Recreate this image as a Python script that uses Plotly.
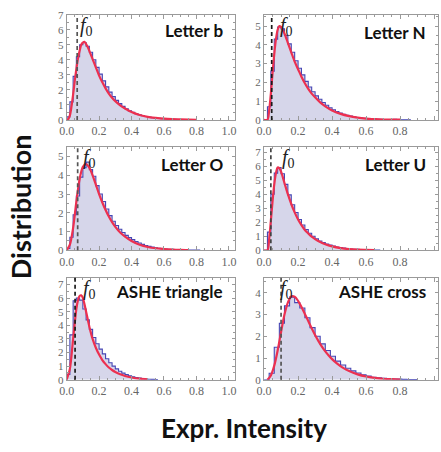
import numpy as np
import plotly.graph_objects as go

# ---------------- data ----------------
panel_titles = ["Letter b", "Letter N", "Letter O", "Letter U", "ASHE triangle", "ASHE cross"]
f0_values = [0.065, 0.045, 0.068, 0.040, 0.052, 0.100]
y_max = [7.0, 5.6, 5.5, 7.35, 7.5, 4.7]
bin_widths = [0.02, 0.02, 0.02, 0.02, 0.02, 0.03]
x_tick_vals = [0.0, 0.2, 0.4, 0.6, 0.8, 1.0]

hist_letter_b = [0.2, 1.2, 2.9, 4.2, 5.0, 5.15, 4.9, 4.5, 4.0, 3.5, 3.05, 2.6, 2.2, 1.85, 1.55,
                 1.3, 1.08, 0.9, 0.74, 0.6, 0.5, 0.41, 0.34, 0.28, 0.23, 0.19, 0.15, 0.12, 0.1,
                 0.08, 0.07, 0.05, 0.04, 0.04, 0.03, 0.02, 0.02, 0.01, 0.01, 0.01]
fit_letter_b_x = [0, 0.01, 0.02, 0.03, 0.04, 0.05, 0.06, 0.07, 0.08, 0.09, 0.10, 0.11, 0.12, 0.13,
                  0.14, 0.16, 0.18, 0.20, 0.22, 0.24, 0.26, 0.28, 0.30, 0.33, 0.36, 0.40, 0.45,
                  0.50, 0.55, 0.60, 0.65, 0.70, 0.80]
fit_letter_b_y = [0, 0.05, 0.3, 0.9, 1.7, 2.6, 3.4, 4.1, 4.6, 5.0, 5.15, 5.2, 5.05, 4.85, 4.6,
                  4.05, 3.5, 2.95, 2.5, 2.1, 1.75, 1.48, 1.25, 0.97, 0.76, 0.53, 0.33, 0.2, 0.13,
                  0.08, 0.05, 0.03, 0.01]

hist_letter_N = [0.0, 0.7, 2.6, 4.3, 4.95, 4.85, 4.5, 4.05, 3.6, 3.15, 2.75, 2.4, 2.05, 1.75, 1.5,
                 1.28, 1.1, 0.93, 0.78, 0.65, 0.54, 0.45, 0.37, 0.3, 0.25, 0.2, 0.16, 0.13, 0.1,
                 0.08, 0.06, 0.05, 0.04, 0.03, 0.03, 0.02, 0.02, 0.02, 0.03, 0.01, 0.01, 0.01, 0.01]
fit_letter_N_x = [0, 0.02, 0.03, 0.04, 0.05, 0.06, 0.07, 0.08, 0.09, 0.10, 0.12, 0.14, 0.16, 0.18,
                  0.20, 0.22, 0.24, 0.26, 0.28, 0.30, 0.33, 0.36, 0.40, 0.45, 0.50, 0.55, 0.60,
                  0.65, 0.70, 0.80]
fit_letter_N_y = [0, 0.0, 0.5, 1.4, 2.5, 3.5, 4.3, 4.8, 5.0, 4.95, 4.6, 4.1, 3.6, 3.1, 2.7, 2.3,
                  1.95, 1.65, 1.4, 1.2, 0.93, 0.72, 0.5, 0.32, 0.2, 0.12, 0.07, 0.04, 0.02, 0.01]

hist_letter_O = [0.1, 0.7, 1.9, 2.9, 3.9, 4.4, 4.7, 4.3, 3.95, 3.45, 3.0, 2.6, 2.2, 1.85, 1.55,
                 1.32, 1.12, 0.95, 0.8, 0.68, 0.57, 0.47, 0.39, 0.32, 0.26, 0.21, 0.17, 0.14, 0.11,
                 0.09, 0.07, 0.06, 0.05, 0.04, 0.03, 0.03, 0.02, 0.02, 0.01, 0.01, 0.01]
fit_letter_O_x = [0, 0.02, 0.04, 0.06, 0.08, 0.10, 0.12, 0.14, 0.16, 0.18, 0.20, 0.22, 0.24, 0.26,
                  0.28, 0.30, 0.33, 0.36, 0.40, 0.45, 0.50, 0.55, 0.60, 0.65, 0.70, 0.75]
fit_letter_O_y = [0, 0.3, 1.2, 2.6, 3.8, 4.45, 4.6, 4.4, 4.0, 3.5, 3.0, 2.55, 2.15, 1.8, 1.5, 1.25,
                  0.95, 0.73, 0.5, 0.3, 0.18, 0.11, 0.07, 0.04, 0.02, 0.01]

hist_letter_U = [0.0, 1.3, 4.0, 5.5, 5.9, 5.45, 4.7, 3.95, 3.25, 2.7, 2.2, 1.8, 1.48, 1.22, 1.0,
                 0.82, 0.67, 0.55, 0.45, 0.37, 0.3, 0.24, 0.2, 0.16, 0.13, 0.1, 0.08, 0.07, 0.05,
                 0.04, 0.03, 0.03, 0.02, 0.02]
fit_letter_U_x = [0, 0.02, 0.03, 0.04, 0.05, 0.06, 0.07, 0.08, 0.09, 0.10, 0.12, 0.14, 0.16, 0.18,
                  0.20, 0.22, 0.24, 0.26, 0.28, 0.30, 0.33, 0.36, 0.40, 0.45, 0.50, 0.55, 0.60, 0.65]
fit_letter_U_y = [0, 0.0, 0.8, 2.1, 3.5, 4.7, 5.5, 5.9, 5.85, 5.6, 4.8, 4.0, 3.3, 2.7, 2.2, 1.8,
                  1.45, 1.2, 0.97, 0.8, 0.59, 0.43, 0.28, 0.16, 0.09, 0.05, 0.03, 0.015]

hist_ashe_triangle = [0.4, 3.3, 5.8, 6.0, 5.85, 5.2, 4.4, 3.7, 3.1, 2.65, 2.25, 1.9, 1.55, 1.25,
                      1.0, 0.8, 0.63, 0.49, 0.38, 0.29, 0.22, 0.16, 0.12, 0.09, 0.06, 0.04, 0.03, 0.02]
fit_ashe_triangle_x = [0, 0.02, 0.04, 0.06, 0.07, 0.08, 0.09, 0.10, 0.11, 0.12, 0.14, 0.16, 0.18,
                       0.20, 0.22, 0.24, 0.26, 0.28, 0.30, 0.33, 0.36, 0.40, 0.45, 0.50]
fit_ashe_triangle_y = [0, 0.8, 3.0, 5.2, 5.85, 6.15, 6.2, 6.0, 5.55, 5.0, 3.9, 3.0, 2.35, 1.85,
                       1.45, 1.15, 0.9, 0.72, 0.57, 0.4, 0.28, 0.17, 0.08, 0.03]

hist_ashe_cross = [0.0, 0.3, 1.5, 2.6, 3.4, 3.8, 3.55, 3.3, 2.85, 2.4, 2.0, 1.65, 1.35, 1.08, 0.86,
                   0.68, 0.53, 0.41, 0.31, 0.23, 0.17, 0.12, 0.09, 0.07, 0.05, 0.04, 0.03, 0.02,
                   0.01, 0.01]
fit_ashe_cross_x = [0.02, 0.04, 0.06, 0.08, 0.10, 0.12, 0.14, 0.16, 0.18, 0.20, 0.22, 0.24, 0.26,
                    0.28, 0.30, 0.32, 0.34, 0.36, 0.38, 0.40, 0.43, 0.46, 0.50, 0.55, 0.60, 0.65,
                    0.70, 0.75, 0.80]
fit_ashe_cross_y = [0, 0.2, 0.65, 1.35, 2.2, 3.0, 3.55, 3.83, 3.82, 3.63, 3.35, 3.03, 2.7, 2.37,
                    2.06, 1.78, 1.53, 1.31, 1.12, 0.95, 0.74, 0.57, 0.4, 0.25, 0.15, 0.09, 0.05,
                    0.03, 0.015]

hists = [hist_letter_b, hist_letter_N, hist_letter_O, hist_letter_U, hist_ashe_triangle, hist_ashe_cross]
fits_x = [fit_letter_b_x, fit_letter_N_x, fit_letter_O_x, fit_letter_U_x, fit_ashe_triangle_x, fit_ashe_cross_x]
fits_y = [fit_letter_b_y, fit_letter_N_y, fit_letter_O_y, fit_letter_U_y, fit_ashe_triangle_y, fit_ashe_cross_y]

# ---------------- layout geometry (pixels) ----------------
W, H = 441, 452
cols = [(60, 232, 166.0), (262, 440, 174.0)]   # left px, right px, px per x-unit
rows = [(9, 117), (145, 251), (279, 384)]      # top px, bottom px
f0_shift = [1, 6, 3, 9, 6, -3]
title_shift_y = [-16, -18, -17, -17, -14, -14]
dash_colors = ["#555555", "#1a1a1a", "#555555", "#444444", "#1a1a1a", "#555555"]

SERIF = "Liberation Serif, Times New Roman, serif"
SANS = "Lato, Open Sans, sans-serif"
FRAME = "#9a9a9a"

fig = go.Figure()
layout = dict(
    width=W, height=H, margin=dict(l=0, r=0, t=0, b=0),
    paper_bgcolor="white", plot_bgcolor="white", showlegend=False,
)
annotations = []
shapes = []

for i in range(6):
    r, c = divmod(i, 2)
    n = i + 1
    xa = "x" if n == 1 else f"x{n}"
    ya = "y" if n == 1 else f"y{n}"
    left, right, ppu = cols[c]
    top, bottom = rows[r]

    h = np.array(hists[i], dtype=float)
    edges = np.arange(len(h) + 1) * bin_widths[i]
    hx = np.concatenate([[edges[0]], edges[:-1], [edges[-1]]])
    hy = np.concatenate([[0.0], h, [0.0]])

    fig.add_trace(go.Scatter(
        x=hx, y=hy, mode="lines", line=dict(color="#4646b4", width=1.1, shape="hv"),
        fill="tozeroy", fillcolor="rgb(214,214,234)", xaxis=xa, yaxis=ya,
        hoverinfo="skip"))
    fig.add_trace(go.Scatter(
        x=fits_x[i], y=fits_y[i], mode="lines",
        line=dict(color="#ec3050", width=2.2, shape="spline", smoothing=0.8),
        xaxis=xa, yaxis=ya, hoverinfo="skip"))

    shapes.append(dict(type="line", xref=xa, yref=f"{ya} domain",
                       x0=f0_values[i], x1=f0_values[i], y0=0, y1=1,
                       line=dict(color=dash_colors[i], width=1.7, dash="4px,3px")))

    xr = (right - left) / ppu
    axis_common = dict(showline=True, linecolor=FRAME, linewidth=1, mirror="ticks",
                       ticks="inside", ticklen=4, tickcolor=FRAME, showgrid=False,
                       zeroline=False, tickfont=dict(family=SERIF, size=12, color="#666"))
    layout["xaxis" if n == 1 else f"xaxis{n}"] = dict(
        axis_common, domain=[left / W, right / W], range=[0, xr], anchor=ya,
        tickvals=x_tick_vals, tickformat=".1f",
        minor=dict(ticks="inside", ticklen=2, tickcolor=FRAME, dtick=0.05))
    layout["yaxis" if n == 1 else f"yaxis{n}"] = dict(
        axis_common, domain=[1 - bottom / H, 1 - top / H], range=[0, y_max[i]], anchor=xa,
        dtick=1, tickformat="d", tickfont=dict(family=SERIF, size=11, color="#666"),
        ticklen=3, minor=dict(ticks="inside", ticklen=2, tickcolor=FRAME, dtick=0.5))

    annotations.append(dict(
        xref=xa, yref=f"{ya} domain", x=f0_values[i], y=1, xanchor="left", yanchor="top",
        xshift=f0_shift[i], yshift=3, showarrow=False,
        text="<i>f</i><sub>0</sub>", font=dict(family=SERIF, size=20, color="#222")))
    annotations.append(dict(
        xref=f"{xa} domain", yref=f"{ya} domain", x=1, y=1, xanchor="right", yanchor="middle",
        xshift=-10, yshift=title_shift_y[i], showarrow=False,
        text=f"<b>{panel_titles[i]}</b>", font=dict(family=SANS, size=17, color="#111")))

annotations.append(dict(
    xref="paper", yref="paper", x=13 / W, y=1 - 206 / H, xanchor="center", yanchor="middle",
    textangle=-90, showarrow=False, text="<b>Distribution</b>",
    font=dict(family=SANS, size=27, color="#111")))
annotations.append(dict(
    xref="paper", yref="paper", x=241 / W, y=1 - 433 / H, xanchor="center", yanchor="middle",
    showarrow=False, text="<b>Expr. Intensity</b>",
    font=dict(family=SANS, size=26, color="#111")))

layout["annotations"] = annotations
layout["shapes"] = shapes
fig.update_layout(**layout)
fig.write_html("out.html")
